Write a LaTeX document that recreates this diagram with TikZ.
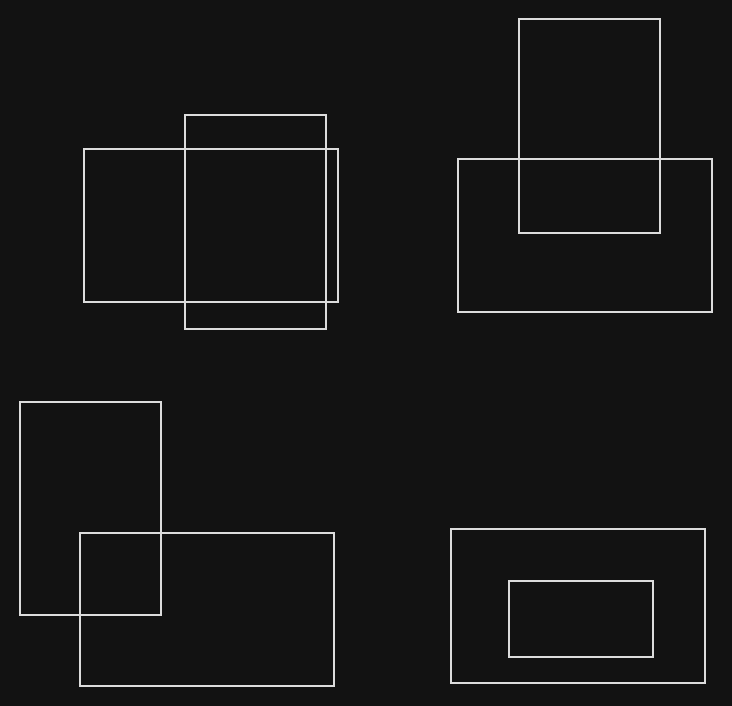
\documentclass[tikz,border=0pt]{standalone}
\definecolor{bg}{HTML}{121212}
\definecolor{edge}{HTML}{DCDCDC}
\tikzset{box/.style={draw=edge,line width=2pt}}
\begin{document}
\begin{tikzpicture}[x=1pt,y=-1pt]
    \fill[bg] (0,0) rectangle (732,706);
    \useasboundingbox (0,0) rectangle (732,706);

    % top left
    \draw[box] (84,149) rectangle (338,302);
    \draw[box] (185,115) rectangle (326,329);

    % top right
    \draw[box] (458,159) rectangle (712,312);
    \draw[box] (519,19) rectangle (660,233);

    % bottom left
    \draw[box] (20,402) rectangle (161,615);
    \draw[box] (80,533) rectangle (334,686);

    % bottom right
    \draw[box] (451,529) rectangle (705,683);
    \draw[box] (509,581) rectangle (653,657);
\end{tikzpicture}
\end{document}
